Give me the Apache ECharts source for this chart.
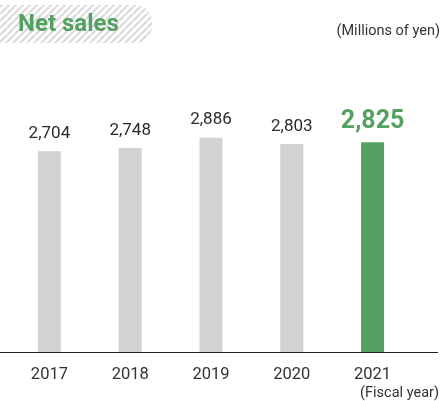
<!DOCTYPE html>
<html>
<head>
<meta charset="utf-8">
<script src="https://cdn.jsdelivr.net/npm/echarts@6/dist/echarts.min.js"></script>
<style>
  html, body { margin: 0; padding: 0; background: #ffffff; }
  #chart { width: 442px; height: 401px; }
</style>
</head>
<body>
<div id="chart"></div>
<script>
// Net sales by fiscal year (millions of yen)
const fiscalYears = ['2017', '2018', '2019', '2020', '2021'];
const netSales = [2704, 2748, 2886, 2803, 2825];
const currentYear = '2021';

const GREY = '#d2d2d4';
const GREEN = '#55a063';
const TEXT = '#2b2b2b';

// Diagonal hatch tile for the title badge
function hatchTile() {
  const s = 7;
  const c = document.createElement('canvas');
  c.width = s; c.height = s;
  const ctx = c.getContext('2d');
  ctx.fillStyle = '#ffffff';
  ctx.fillRect(0, 0, s, s);
  ctx.strokeStyle = '#dadada';
  ctx.lineWidth = 2.2;
  ctx.beginPath();
  for (const k of [-s, 0, s]) {
    ctx.moveTo(k, s);
    ctx.lineTo(k + s, 0);
  }
  ctx.stroke();
  return c;
}

const chart = echarts.init(document.getElementById('chart'), null, { renderer: 'canvas' });

const barData = netSales.map((v, i) => {
  const isCurrent = fiscalYears[i] === currentYear;
  return {
    value: v,
    itemStyle: { color: isCurrent ? GREEN : GREY },
    label: isCurrent
      ? { fontSize: 25, fontWeight: 'bold', color: GREEN, distance: 8 }
      : { fontSize: 17, color: TEXT, distance: 9 }
  };
});

chart.setOption({
  animation: false,
  backgroundColor: '#ffffff',
  textStyle: { fontFamily: 'Roboto' },
  grid: { left: 9, right: 29, top: 55, bottom: 49 },
  xAxis: {
    type: 'category',
    data: fiscalYears,
    axisLine: { show: false },
    axisTick: { show: false },
    axisLabel: { fontSize: 16.5, color: '#333333', margin: 14, fontFamily: 'Roboto' }
  },
  yAxis: {
    type: 'value',
    min: 0,
    max: 4000,
    show: false
  },
  series: [{
    type: 'bar',
    data: barData,
    barWidth: 23,
    label: {
      show: true,
      position: 'top',
      fontFamily: 'Roboto',
      formatter: p => p.value.toLocaleString('en-US')
    }
  }],
  graphic: [
    {
      type: 'rect',
      shape: { x: -20, y: 5, width: 172, height: 38, r: 17 },
      style: { fill: { image: hatchTile(), repeat: 'repeat' } },
      silent: true
    },
    {
      type: 'text',
      left: 18, top: 13,
      style: { text: 'Net sales', fontSize: 24, fontWeight: 'bold', fill: '#52a062', fontFamily: 'Roboto' }
    },
    {
      type: 'text',
      right: 2, top: 24,
      style: { text: '(Millions of yen)', fontSize: 14.5, fill: '#333333', fontFamily: 'Roboto' }
    },
    {
      type: 'line',
      shape: { x1: 0, y1: 352.5, x2: 438, y2: 352.5 },
      style: { stroke: '#222222', lineWidth: 1 },
      silent: true
    },
    {
      type: 'text',
      right: 3, top: 386,
      style: { text: '(Fiscal year)', fontSize: 14.5, fill: '#333333', fontFamily: 'Roboto' }
    }
  ]
});
</script>
</body>
</html>
